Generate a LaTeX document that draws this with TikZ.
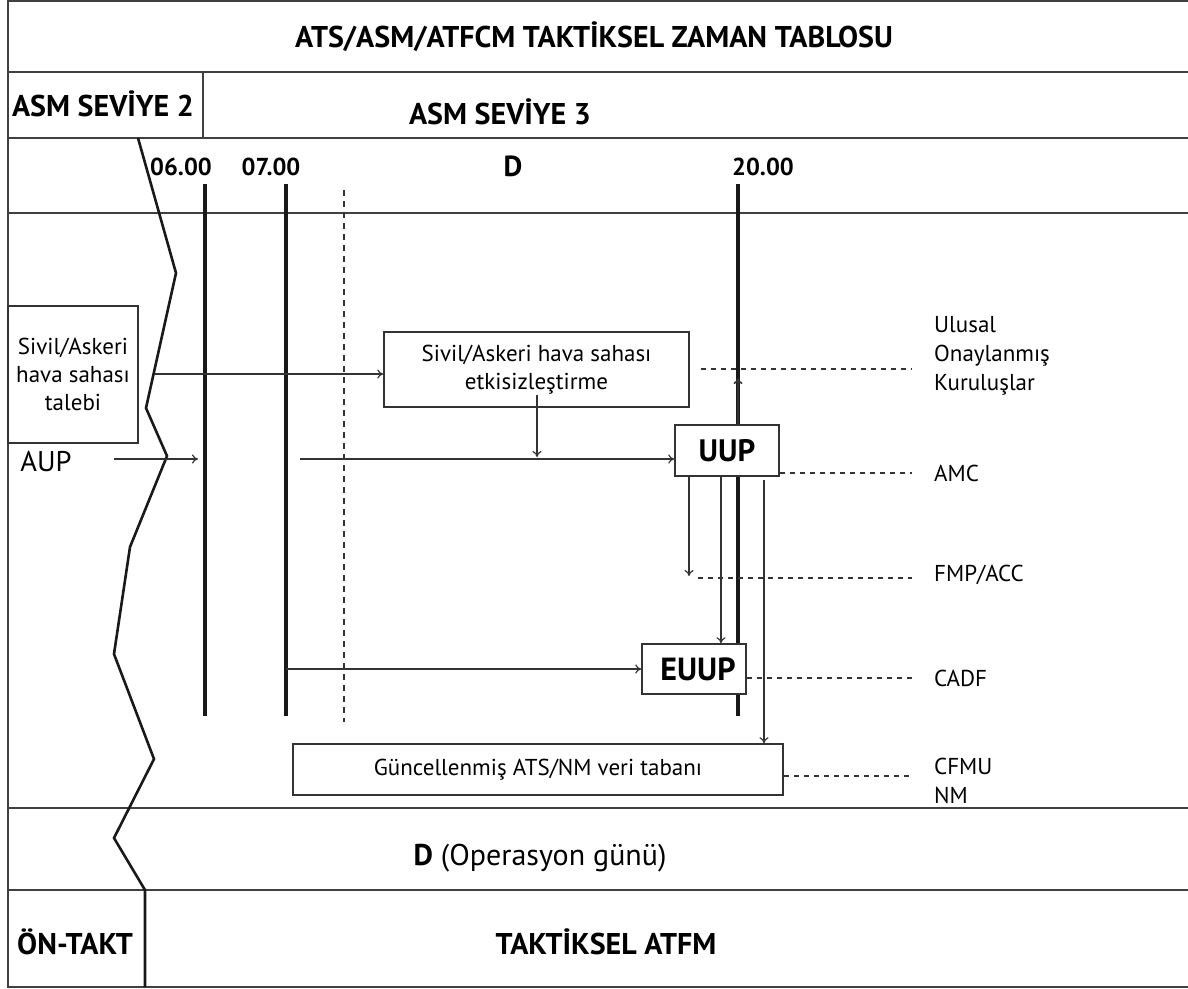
\documentclass[tikz,border=0pt]{standalone}
\usepackage{fontspec}
\setmainfont{PT Sans}
\usetikzlibrary{arrows.meta}
\begin{document}
\begin{tikzpicture}[x=1pt,y=-1pt,
  frameline/.style={draw=black!75,line width=1.7pt},
  timeline/.style={draw=black!90,line width=3.2pt},
  zig/.style={draw=black!90,line width=2.6pt,line join=miter},
  conn/.style={draw=black!80,line width=1.2pt,-{To[length=6pt,width=9pt]}},
  dline/.style={draw=black!80,line width=1.2pt,dash pattern=on 5pt off 5pt},
  vdash/.style={draw=black!80,line width=1.2pt,dash pattern=on 6pt off 5pt},
  box/.style={draw=black!80,line width=1.5pt,fill=white,inner sep=0pt,align=center},
  hdr/.style={font=\fontsize{30}{34}\selectfont\bfseries,inner sep=0pt},
  tim/.style={font=\fontsize{24.5}{28}\selectfont\bfseries,inner sep=0pt},
  lbl/.style={font=\fontsize{23}{29}\selectfont,inner sep=0pt,align=left,anchor=west},
  bxt/.style={font=\fontsize{23}{28}\selectfont}
]
\useasboundingbox (0,0) rectangle (1188,988);
% frame and rows
\draw[frameline] (1188,1) -- (8,1) -- (8,987) -- (1188,987);
\draw[frameline] (8,72) -- (1188,72);
\draw[frameline] (8,138) -- (1188,138);
\draw[frameline] (8,213) -- (1188,213);
\draw[frameline] (8,808) -- (1188,808);
\draw[frameline] (8,890) -- (1188,890);
\draw[frameline] (203,72) -- (203,138);

% header texts
\node[hdr] (title) at (594,37) {ATS/ASM/ATFCM TAKTİKSEL ZAMAN TABLOSU};
\node[hdr] (s2) at (103,104) {ASM SEVİYE 2};
\node[hdr] (s3) at (500,112) {ASM SEVİYE 3};
\node[tim] (t6) at (181,167) {06.00};
\node[tim] (t7) at (271,167) {07.00};
\node[hdr,font=\fontsize{29}{32}\selectfont\bfseries] (dd) at (513,166) {D};
\node[tim] (t20) at (763,167) {20.00};

% zigzag
\draw[zig] (138,138) -- (176,273) -- (146,408) -- (167,456) -- (130,547) -- (114,654) -- (154,759) -- (114,838) -- (145,890) -- (145,987);

% time lines
\draw[timeline] (205,184) -- (205,716);
\draw[timeline] (286,184) -- (286,716);
\draw[vdash] (344,190) -- (344,722);
\draw[timeline] (738,184) -- (738,716);

% boxes
\node[box,minimum width=130pt,minimum height=137pt,bxt] (talep) at (73,374.5) {Sivil/Askeri\\hava sahası\\talebi};
\node[box,minimum width=305pt,minimum height=75pt,bxt] (etk) at (536.5,369.5) {Sivil/Askeri hava sahası\\etkisizleştirme};
\node[box,minimum width=104pt,minimum height=51pt,font=\fontsize{31}{34}\selectfont\bfseries] (uup) at (727,450.5) {UUP};
\node[box,minimum width=104pt,minimum height=50pt,font=\fontsize{32}{34}\selectfont\bfseries] (euup) at (694,669) {\hspace{8pt}EUUP};
\node[box,minimum width=490pt,minimum height=51pt,bxt] (db) at (538,769.5) {Güncellenmiş ATS/NM veri tabanı};

% AUP
\node[font=\fontsize{28.5}{32}\selectfont,inner sep=0pt] (aup) at (46,461) {AUP};
\coordinate (a0) at (114,459);
\coordinate (a1) at (205,459);
\draw[conn] (a0) -- ([xshift=-7pt]a1);

% arrows
\coordinate (z1) at (155,374);
\draw[conn] (z1) -- (z1 -| etk.west);
\coordinate (l7) at (300,459);
\draw[conn] (l7) -- (l7 -| uup.west);
\coordinate (e0) at (537,395);
\draw[conn] (e0) -- (537,457);
\coordinate (u0) at (738,425);
\draw[conn,line width=1.6pt] (u0) -- (738,378);
\draw[conn] (uup.south -| 689,0) -- (689,576);
\draw[conn] (uup.south -| 721,0) -- (euup.north -| 721,0);
\coordinate (r0) at (764,480);
\draw[conn] (r0) -- (db.north -| r0);
\coordinate (l7b) at (286,669);
\draw[conn] (l7b) -- (euup.west);

% right dashed lines and labels
\coordinate (q1) at (701,369);
\coordinate (q1e) at (912,369);
\draw[dline] (q1) -- (q1e);
\draw[dline] (uup.east |- 0,473) -- (912,473);
\draw[dline] (698,578) -- (912,578);
\draw[dline] (euup.east |- 0,678) -- (912,678);
\draw[dline] (db.east |- 0,776) -- (912,776);

\node[lbl] (ulu) at (934,356) {Ulusal\\Onaylanmış\\Kuruluşlar};
\node[lbl] (amc) at (934,473) {AMC};
\node[lbl] (fmp) at (934,575) {FMP/ACC};
\node[lbl] (cadf) at (934,678) {CADF};
\node[lbl] (cfmu) at (934,781) {CFMU\\NM};

% bottom rows
\node[font=\fontsize{30}{34}\selectfont,inner sep=0pt] (opday) at (540,858) {\textbf{D} (Operasyon günü)};
\node[hdr] (ont) at (75,942) {ÖN-TAKT};
\node[hdr] (tatfm) at (606,942) {TAKTİKSEL ATFM};
\end{tikzpicture}
\end{document}
